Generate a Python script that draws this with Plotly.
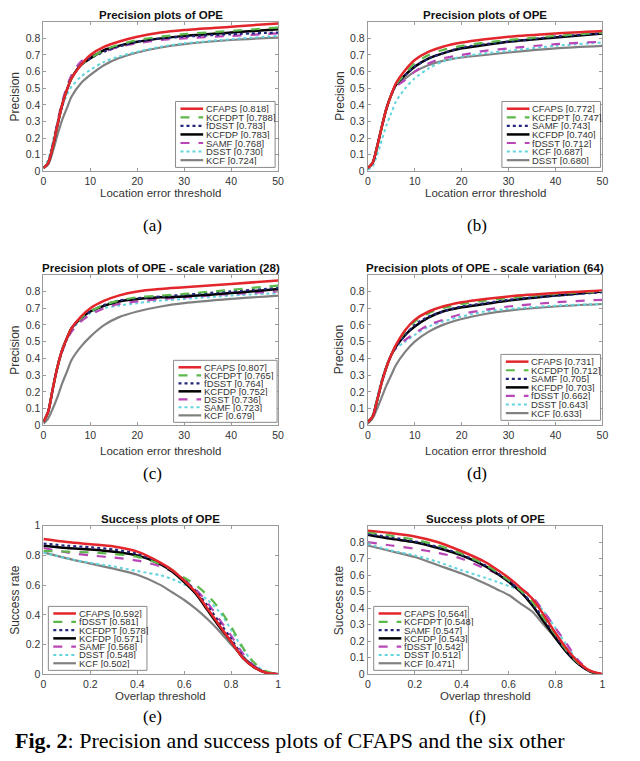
import plotly.graph_objects as go

# ---------------------------------------------
# Datos (umbrales y curvas)
# ---------------------------------------------
P_X = [0, 1, 2, 3, 4, 5, 6, 8, 10, 13, 16, 20, 25, 30, 40, 50]
S_X = [0, 0.1, 0.2, 0.3, 0.4, 0.5, 0.55, 0.6, 0.65, 0.7, 0.75, 0.8, 0.85, 0.9, 0.95, 1.0]

# (a) Precision plots of OPE
A_NAMES = ["CFAPS", "KCFDPT", "fDSST", "KCFDP", "SAMF", "DSST", "KCF"]
A_SCORES = ["0.818", "0.788", "0.783", "0.783", "0.768", "0.730", "0.724"]
A_CURVES = [
    [0.02, 0.05, 0.15, 0.28, 0.40, 0.49, 0.56, 0.64, 0.70, 0.75, 0.78, 0.81, 0.835, 0.85, 0.87, 0.89],
    [0.02, 0.05, 0.15, 0.28, 0.40, 0.49, 0.56, 0.64, 0.68, 0.73, 0.76, 0.79, 0.81, 0.825, 0.845, 0.865],
    [0.02, 0.05, 0.15, 0.28, 0.40, 0.49, 0.56, 0.64, 0.68, 0.72, 0.75, 0.78, 0.80, 0.81, 0.825, 0.835],
    [0.02, 0.05, 0.15, 0.28, 0.40, 0.49, 0.56, 0.64, 0.68, 0.73, 0.755, 0.78, 0.80, 0.815, 0.835, 0.855],
    [0.02, 0.05, 0.16, 0.30, 0.42, 0.51, 0.58, 0.66, 0.69, 0.72, 0.75, 0.77, 0.79, 0.80, 0.815, 0.83],
    [0.02, 0.07, 0.18, 0.30, 0.39, 0.46, 0.51, 0.57, 0.61, 0.66, 0.69, 0.72, 0.75, 0.77, 0.795, 0.815],
    [0.02, 0.04, 0.12, 0.22, 0.31, 0.38, 0.45, 0.53, 0.58, 0.64, 0.68, 0.715, 0.745, 0.765, 0.79, 0.805],
]

# (b) Precision plots of OPE
B_NAMES = ["CFAPS", "KCFDPT", "SAMF", "KCFDP", "fDSST", "KCF", "DSST"]
B_SCORES = ["0.772", "0.747", "0.743", "0.740", "0.712", "0.687", "0.680"]
B_CURVES = [
    [0.02, 0.05, 0.15, 0.27, 0.38, 0.46, 0.53, 0.61, 0.67, 0.72, 0.75, 0.775, 0.795, 0.81, 0.83, 0.845],
    [0.02, 0.05, 0.15, 0.27, 0.38, 0.46, 0.52, 0.59, 0.65, 0.70, 0.73, 0.755, 0.775, 0.79, 0.815, 0.835],
    [0.02, 0.05, 0.15, 0.27, 0.38, 0.46, 0.52, 0.58, 0.63, 0.68, 0.71, 0.745, 0.765, 0.78, 0.81, 0.83],
    [0.02, 0.05, 0.15, 0.27, 0.38, 0.46, 0.52, 0.58, 0.63, 0.68, 0.71, 0.74, 0.76, 0.78, 0.805, 0.83],
    [0.02, 0.05, 0.15, 0.27, 0.38, 0.46, 0.51, 0.55, 0.60, 0.65, 0.68, 0.70, 0.725, 0.74, 0.765, 0.78],
    [0.01, 0.03, 0.10, 0.19, 0.28, 0.35, 0.42, 0.50, 0.56, 0.62, 0.66, 0.69, 0.71, 0.725, 0.755, 0.775],
    [0.02, 0.05, 0.15, 0.27, 0.38, 0.46, 0.52, 0.56, 0.60, 0.64, 0.665, 0.685, 0.70, 0.715, 0.74, 0.755],
]

# (c) Precision plots of OPE - scale variation (28)
C_NAMES = ["CFAPS", "KCFDPT", "fDSST", "KCFDP", "DSST", "SAMF", "KCF"]
C_SCORES = ["0.807", "0.765", "0.764", "0.752", "0.736", "0.723", "0.679"]
C_CURVES = [
    [0.02, 0.08, 0.22, 0.35, 0.45, 0.52, 0.58, 0.65, 0.70, 0.745, 0.775, 0.80, 0.815, 0.825, 0.845, 0.865],
    [0.02, 0.08, 0.22, 0.35, 0.45, 0.52, 0.58, 0.64, 0.68, 0.72, 0.745, 0.765, 0.775, 0.785, 0.81, 0.835],
    [0.02, 0.08, 0.22, 0.35, 0.45, 0.52, 0.58, 0.64, 0.68, 0.72, 0.745, 0.76, 0.77, 0.78, 0.80, 0.82],
    [0.02, 0.08, 0.22, 0.35, 0.45, 0.52, 0.58, 0.64, 0.68, 0.715, 0.74, 0.755, 0.765, 0.77, 0.79, 0.815],
    [0.02, 0.08, 0.22, 0.35, 0.44, 0.51, 0.56, 0.62, 0.66, 0.70, 0.725, 0.74, 0.755, 0.765, 0.785, 0.80],
    [0.02, 0.08, 0.22, 0.35, 0.44, 0.51, 0.57, 0.63, 0.67, 0.70, 0.715, 0.73, 0.745, 0.755, 0.775, 0.79],
    [0.01, 0.04, 0.10, 0.17, 0.25, 0.32, 0.39, 0.47, 0.53, 0.60, 0.645, 0.68, 0.71, 0.73, 0.755, 0.775],
]

# (d) Precision plots of OPE - scale variation (64)
D_NAMES = ["CFAPS", "KCFDPT", "SAMF", "KCFDP", "fDSST", "DSST", "KCF"]
D_SCORES = ["0.731", "0.712", "0.705", "0.703", "0.662", "0.643", "0.633"]
D_CURVES = [
    [0.02, 0.05, 0.15, 0.26, 0.35, 0.42, 0.48, 0.57, 0.63, 0.68, 0.71, 0.735, 0.755, 0.77, 0.79, 0.805],
    [0.02, 0.05, 0.15, 0.26, 0.35, 0.42, 0.48, 0.56, 0.62, 0.67, 0.70, 0.725, 0.745, 0.76, 0.785, 0.80],
    [0.02, 0.05, 0.15, 0.26, 0.35, 0.42, 0.47, 0.54, 0.60, 0.65, 0.68, 0.71, 0.73, 0.75, 0.775, 0.795],
    [0.02, 0.05, 0.15, 0.26, 0.35, 0.42, 0.47, 0.54, 0.59, 0.645, 0.68, 0.705, 0.725, 0.745, 0.775, 0.80],
    [0.02, 0.05, 0.15, 0.26, 0.35, 0.42, 0.46, 0.51, 0.55, 0.60, 0.63, 0.665, 0.69, 0.71, 0.735, 0.75],
    [0.02, 0.06, 0.17, 0.28, 0.36, 0.42, 0.46, 0.50, 0.54, 0.59, 0.62, 0.65, 0.68, 0.695, 0.715, 0.725],
    [0.01, 0.04, 0.10, 0.17, 0.24, 0.30, 0.36, 0.44, 0.50, 0.56, 0.60, 0.635, 0.665, 0.685, 0.71, 0.725],
]

# (e) Success plots of OPE
E_NAMES = ["CFAPS", "fDSST", "KCFDPT", "KCFDP", "SAMF", "DSST", "KCF"]
E_SCORES = ["0.592", "0.581", "0.578", "0.571", "0.568", "0.548", "0.502"]
E_CURVES = [
    [0.91, 0.89, 0.875, 0.86, 0.825, 0.75, 0.70, 0.63, 0.55, 0.44, 0.33, 0.22, 0.11, 0.045, 0.01, 0],
    [0.83, 0.825, 0.82, 0.81, 0.79, 0.74, 0.70, 0.65, 0.60, 0.53, 0.44, 0.32, 0.18, 0.075, 0.02, 0],
    [0.88, 0.865, 0.855, 0.84, 0.81, 0.745, 0.695, 0.635, 0.56, 0.46, 0.35, 0.24, 0.12, 0.05, 0.012, 0],
    [0.865, 0.85, 0.84, 0.825, 0.80, 0.74, 0.69, 0.62, 0.54, 0.43, 0.32, 0.22, 0.11, 0.045, 0.01, 0],
    [0.85, 0.82, 0.80, 0.785, 0.765, 0.725, 0.69, 0.635, 0.57, 0.48, 0.37, 0.26, 0.14, 0.055, 0.012, 0],
    [0.82, 0.78, 0.75, 0.725, 0.695, 0.665, 0.64, 0.605, 0.56, 0.50, 0.42, 0.30, 0.17, 0.07, 0.015, 0],
    [0.82, 0.78, 0.745, 0.71, 0.67, 0.60, 0.55, 0.50, 0.44, 0.37, 0.29, 0.20, 0.12, 0.05, 0.01, 0],
]

# (f) Success plots of OPE
F_NAMES = ["CFAPS", "KCFDPT", "SAMF", "KCFDP", "fDSST", "DSST", "KCF"]
F_SCORES = ["0.564", "0.548", "0.547", "0.543", "0.542", "0.512", "0.471"]
F_CURVES = [
    [0.87, 0.855, 0.835, 0.80, 0.745, 0.68, 0.635, 0.585, 0.525, 0.46, 0.36, 0.25, 0.15, 0.07, 0.02, 0],
    [0.86, 0.84, 0.815, 0.78, 0.73, 0.665, 0.62, 0.57, 0.51, 0.44, 0.34, 0.24, 0.14, 0.065, 0.018, 0],
    [0.85, 0.83, 0.805, 0.77, 0.725, 0.66, 0.615, 0.565, 0.505, 0.43, 0.335, 0.235, 0.135, 0.06, 0.016, 0],
    [0.845, 0.82, 0.80, 0.765, 0.72, 0.655, 0.61, 0.56, 0.50, 0.42, 0.32, 0.22, 0.13, 0.06, 0.015, 0],
    [0.80, 0.78, 0.76, 0.735, 0.70, 0.64, 0.61, 0.57, 0.52, 0.47, 0.38, 0.28, 0.18, 0.08, 0.02, 0],
    [0.79, 0.75, 0.72, 0.68, 0.63, 0.585, 0.56, 0.535, 0.51, 0.46, 0.38, 0.28, 0.17, 0.07, 0.018, 0],
    [0.78, 0.745, 0.71, 0.66, 0.61, 0.55, 0.515, 0.48, 0.43, 0.38, 0.30, 0.22, 0.13, 0.06, 0.015, 0],
]

P_TICKS = [0, 10, 20, 30, 40, 50]
P_YTICKS = [0, 0.1, 0.2, 0.3, 0.4, 0.5, 0.6, 0.7, 0.8]
S_TICKS = [0, 0.2, 0.4, 0.6, 0.8, 1]

# estilo por posición en el ranking (color, dash, ancho)
STYLES = [
    ("#e3262b", "solid", 2.5),
    ("#5cb84a", "dash", 2.2),
    ("#24287a", "dot", 2.2),
    ("#000000", "solid", 2.5),
    ("#b946b6", "dash", 2.2),
    ("#62d4dc", "dot", 2.0),
    ("#808080", "solid", 2.2),
]

# ===========================================
# Geometría (pixeles de la imagen 640x761)
# ===========================================
W, H = 640, 761


def px(x):
    return x / W


def py(y):
    return 1 - y / H


LEFT = (41, 279)
RIGHT = (370, 608)
ROW1, ROW2, ROW3 = (16, 168), (273, 426), (528, 679)

panels = [
    dict(xd=LEFT, yd=ROW1, title="Precision plots of OPE", xlab="Location error threshold",
         ylab="Precision", x=P_X, names=A_NAMES, scores=A_SCORES, curves=A_CURVES,
         xr=[0, 50], xt=P_TICKS, yr=[0, 0.9], yt=P_YTICKS, leg=(175, 97, 276, 164),
         cap="(a)", xlab_y=190, cap_y=223),
    dict(xd=RIGHT, yd=ROW1, title="Precision plots of OPE", xlab="Location error threshold",
         ylab="Precision", x=P_X, names=B_NAMES, scores=B_SCORES, curves=B_CURVES,
         xr=[0, 50], xt=P_TICKS, yr=[0, 0.9], yt=P_YTICKS, leg=(506, 97, 606, 164),
         cap="(b)", xlab_y=190, cap_y=223),
    dict(xd=LEFT, yd=ROW2, title="Precision plots of OPE - scale variation (28)",
         xlab="Location error threshold", ylab="Precision", x=P_X, names=C_NAMES, scores=C_SCORES,
         curves=C_CURVES, xr=[0, 50], xt=P_TICKS, yr=[0, 0.9], yt=P_YTICKS,
         leg=(173, 360, 278, 423), cap="(c)", xlab_y=452, cap_y=475),
    dict(xd=RIGHT, yd=ROW2, title="Precision plots of OPE - scale variation (64)",
         xlab="Location error threshold", ylab="Precision", x=P_X, names=D_NAMES, scores=D_SCORES,
         curves=D_CURVES, xr=[0, 50], xt=P_TICKS, yr=[0, 0.9], yt=P_YTICKS,
         leg=(505, 354, 606, 421), cap="(d)", xlab_y=452, cap_y=475),
    dict(xd=LEFT, yd=ROW3, title="Success plots of OPE", xlab="Overlap threshold",
         ylab="Success rate", x=S_X, names=E_NAMES, scores=E_SCORES, curves=E_CURVES,
         xr=[0, 1], xt=S_TICKS, yr=[0, 1], yt=S_TICKS, leg=(46, 610, 146, 675),
         cap="(e)", xlab_y=701, cap_y=722),
    dict(xd=RIGHT, yd=ROW3, title="Success plots of OPE", xlab="Overlap threshold",
         ylab="Success rate", x=S_X, names=F_NAMES, scores=F_SCORES, curves=F_CURVES,
         xr=[0, 1], xt=S_TICKS, yr=[0, 0.9], yt=P_YTICKS, leg=(376, 610, 472, 675),
         cap="(f)", xlab_y=701, cap_y=722),
]

SANS = "Liberation Sans, Arial, sans-serif"
SERIF = "Liberation Serif, Times New Roman, serif"

fig = go.Figure()
shapes = []
annotations = []
layout_axes = {}

for i, p in enumerate(panels):
    n = "" if i == 0 else str(i + 1)
    xa, ya = "x" + n, "y" + n

    # curvas (la primera del ranking encima)
    for k in reversed(range(len(p["curves"]))):
        color, dash, width = STYLES[k]
        fig.add_trace(go.Scatter(
            x=p["x"], y=p["curves"][k], mode="lines",
            name=p["names"][k] + " [" + p["scores"][k] + "]",
            line=dict(color=color, dash=dash, width=width, shape="spline", smoothing=0.8),
            xaxis=xa, yaxis=ya, showlegend=False, hoverinfo="skip",
        ))

    x0, x1 = p["xd"]
    y0, y1 = p["yd"]
    axis_common = dict(
        showline=True, mirror="ticks", linecolor="#9a9a9a", linewidth=1,
        ticks="inside", ticklen=3, tickcolor="#9a9a9a", showgrid=False, zeroline=False,
        tickfont=dict(family=SANS, size=10.5, color="#333333"),
    )
    layout_axes["xaxis" + n] = dict(axis_common, domain=[px(x0), px(x1)], range=p["xr"],
                                    tickvals=p["xt"], anchor=ya)
    layout_axes["yaxis" + n] = dict(axis_common, domain=[py(y1), py(y0)], range=p["yr"],
                                    tickvals=p["yt"], anchor=xa)

    cx = (x0 + x1) / 2
    # título, etiquetas de ejes y subtítulo
    annotations.append(dict(text="<b>" + p["title"] + "</b>", x=px(cx), y=py(y0 - 7),
                            font=dict(family=SANS, size=11.5, color="#111111")))
    annotations.append(dict(text=p["xlab"], x=px(cx), y=py(p["xlab_y"]),
                            font=dict(family=SANS, size=11.5, color="#333333")))
    annotations.append(dict(text=p["ylab"], x=px(x0 - 29), y=py((y0 + y1) / 2), textangle=-90,
                            font=dict(family=SANS, size=12, color="#333333")))
    annotations.append(dict(text=p["cap"], x=px(cx - 8), y=py(p["cap_y"]),
                            font=dict(family=SERIF, size=17, color="#000000")))

    # leyenda dibujada a mano (caja compacta como en MATLAB)
    lx0, ly0, lx1, ly1 = p["leg"]
    shapes.append(dict(type="rect", xref="paper", yref="paper", x0=px(lx0), x1=px(lx1),
                       y0=py(ly1), y1=py(ly0), line=dict(color="#8a8a8a", width=1),
                       fillcolor="white", layer="above"))
    step = (ly1 - ly0 - 6) / 7
    for k in range(len(p["names"])):
        color, dash, width = STYLES[k]
        yy = ly0 + 3 + step * (k + 0.5)
        shapes.append(dict(type="line", xref="paper", yref="paper", x0=px(lx0 + 5), x1=px(lx0 + 28),
                           y0=py(yy), y1=py(yy), line=dict(color=color, dash=dash, width=width),
                           layer="above"))
        annotations.append(dict(text=p["names"][k] + " [" + p["scores"][k] + "]",
                                x=px(lx0 + 29), y=py(yy), xanchor="left", height=9,
                                font=dict(family=SANS, size=9.5, color="#333333")))

annotations.append(dict(text="<b>Fig. 2</b>: Precision and success plots of CFAPS and the six other",
                        x=px(10), y=py(761), xanchor="left", yanchor="bottom",
                        font=dict(family=SERIF, size=22, color="#000000")))

for a in annotations:
    a.setdefault("xref", "paper")
    a.setdefault("yref", "paper")
    a.setdefault("showarrow", False)
    a.setdefault("yanchor", "middle")
    a.setdefault("xanchor", "center")

fig.update_layout(
    width=W, height=H, margin=dict(l=0, r=0, t=0, b=0),
    paper_bgcolor="white", plot_bgcolor="white",
    shapes=shapes, annotations=annotations, **layout_axes,
)

# quitar el margen por defecto del <body> para que la figura quede en (0,0)
fig.write_html("out.html", config={"displayModeBar": False},
               post_script="document.body.style.margin='0';")
